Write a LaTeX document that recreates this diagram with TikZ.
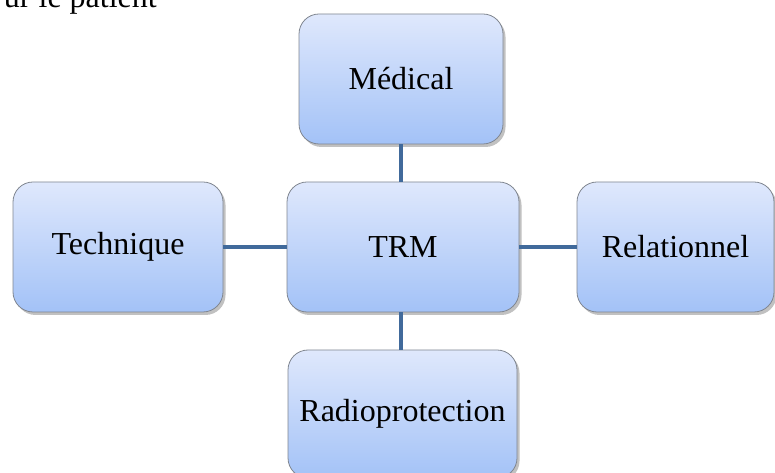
\documentclass[tikz,border=0pt]{standalone}
\usepackage{fontspec}
\setmainfont{Liberation Serif}
\usetikzlibrary{shadows}
\definecolor{boxtop}{HTML}{DFE8FC}
\definecolor{boxbottom}{HTML}{A3C2F7}
\definecolor{boxline}{HTML}{808690}
\definecolor{linkblue}{HTML}{416A9B}
\tikzset{
  topicbox/.style={draw=boxline, line width=0.8pt, rounded corners=20pt,
    top color=boxtop, bottom color=boxbottom,
    minimum height=130pt, inner sep=0pt,
    font=\fontsize{32}{38}\selectfont, text=black,
    drop shadow={shadow xshift=2.5pt, shadow yshift=-3pt, opacity=0.35, fill=black!70}},
  link/.style={draw=linkblue, line width=4.5pt}
}
\begin{document}
\begin{tikzpicture}[x=1pt, y=1pt]
  \useasboundingbox (0,0) rectangle (775,473);
  \clip (0,0) rectangle (775,473);
  % tail of the preceding line of text
  \node[anchor=base east, inner sep=0pt, font=\fontsize{32}{38}\selectfont] (prev) at (157,465) {ur le patient};
  % boxes
  \node[topicbox, minimum width=204pt] (med) at (401,394) {Médical};
  \node[topicbox, minimum width=232pt] (trm) at (403,226) {TRM};
  \node[topicbox, minimum width=210pt] (tech) at (118,226) {Technique};
  \node[topicbox, minimum width=197pt] (rel) at (675.5,226) {Relationnel};
  \node[topicbox, minimum width=229pt, minimum height=128pt] (radio) at (402.5,59) {Radioprotection};
  % links
  \draw[link] (med.south) -- (med.south |- trm.north);
  \draw[link] (radio.north -| med.south) -- (trm.south -| med.south);
  \draw[link] (tech.east) -- (trm.west);
  \draw[link] (trm.east) -- (rel.west);
\end{tikzpicture}
\end{document}
